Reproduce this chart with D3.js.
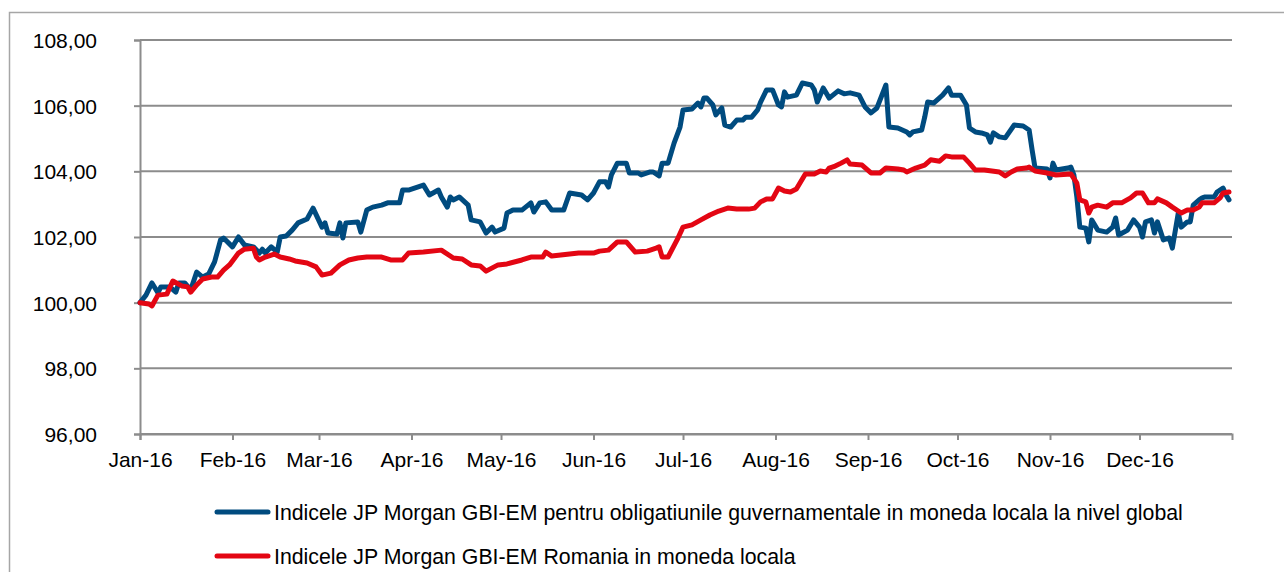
<!DOCTYPE html>
<html>
<head>
<meta charset="utf-8">
<script src="https://cdn.jsdelivr.net/npm/d3@7"></script>
<style>
  body { margin: 0; background: #fff; }
  svg text { font-family: "Liberation Sans", Arial, sans-serif; fill: #000; }
</style>
</head>
<body>
<div id="chart"></div>
<script>
// date series
var blueDates = ["2016-01-01","2016-01-03","2016-01-05","2016-01-07","2016-01-08","2016-01-11","2016-01-13","2016-01-14","2016-01-16","2016-01-18",
  "2016-01-20","2016-01-22","2016-01-24","2016-01-26","2016-01-28","2016-01-29","2016-02-01","2016-02-03","2016-02-05","2016-02-08",
  "2016-02-10","2016-02-11","2016-02-12","2016-02-14","2016-02-16","2016-02-17","2016-02-19","2016-02-21","2016-02-23","2016-02-26",
  "2016-02-28","2016-03-02","2016-03-03","2016-03-04","2016-03-07","2016-03-08","2016-03-09","2016-03-10","2016-03-14","2016-03-15",
  "2016-03-17","2016-03-19","2016-03-22","2016-03-24","2016-03-28","2016-03-29","2016-03-31","2016-04-02","2016-04-05","2016-04-07",
  "2016-04-10","2016-04-11","2016-04-13","2016-04-14","2016-04-15","2016-04-17","2016-04-20","2016-04-21","2016-04-24","2016-04-26",
  "2016-04-28","2016-04-29","2016-05-02","2016-05-03","2016-05-05","2016-05-08","2016-05-11","2016-05-12","2016-05-14","2016-05-16",
  "2016-05-18","2016-05-22","2016-05-24","2016-05-28","2016-05-30","2016-06-01","2016-06-03","2016-06-05","2016-06-06","2016-06-07",
  "2016-06-09","2016-06-12","2016-06-13","2016-06-16","2016-06-17","2016-06-20","2016-06-21","2016-06-23","2016-06-24","2016-06-26",
  "2016-06-28","2016-06-30","2016-07-01","2016-07-04","2016-07-06","2016-07-07","2016-07-08","2016-07-09","2016-07-11","2016-07-12",
  "2016-07-14","2016-07-15","2016-07-17","2016-07-19","2016-07-21","2016-07-22","2016-07-24","2016-07-26","2016-07-27","2016-07-29",
  "2016-07-31","2016-08-02","2016-08-03","2016-08-04","2016-08-05","2016-08-08","2016-08-10","2016-08-13","2016-08-14","2016-08-15",
  "2016-08-17","2016-08-19","2016-08-22","2016-08-24","2016-08-26","2016-08-29","2016-08-31","2016-09-02","2016-09-04","2016-09-07",
  "2016-09-08","2016-09-11","2016-09-14","2016-09-15","2016-09-16","2016-09-19","2016-09-20","2016-09-21","2016-09-23","2016-09-26",
  "2016-09-28","2016-09-29","2016-10-02","2016-10-04","2016-10-05","2016-10-07","2016-10-09","2016-10-11","2016-10-12","2016-10-13",
  "2016-10-15","2016-10-17","2016-10-20","2016-10-23","2016-10-25","2016-10-26","2016-10-27","2016-10-31","2016-11-01","2016-11-02",
  "2016-11-03","2016-11-07","2016-11-08","2016-11-09","2016-11-10","2016-11-11","2016-11-13","2016-11-14","2016-11-15","2016-11-17",
  "2016-11-20","2016-11-22","2016-11-23","2016-11-24","2016-11-27","2016-11-29","2016-12-01","2016-12-02","2016-12-03","2016-12-05",
  "2016-12-06","2016-12-07","2016-12-09","2016-12-11","2016-12-12","2016-12-14","2016-12-15","2016-12-17","2016-12-18","2016-12-19",
  "2016-12-21","2016-12-22","2016-12-23","2016-12-26","2016-12-27","2016-12-29","2016-12-30","2016-12-31"];
var blueValues = [100.00,100.23,100.60,100.30,100.48,100.48,100.32,100.60,100.60,100.39,
  100.93,100.78,100.87,101.24,101.91,101.97,101.70,102.00,101.76,101.70,
  101.51,101.63,101.51,101.70,101.54,102.00,102.03,102.21,102.43,102.55,
  102.88,102.30,102.43,102.12,102.09,102.43,101.97,102.43,102.46,102.15,
  102.82,102.91,102.97,103.04,103.04,103.43,103.43,103.49,103.58,103.28,
  103.43,103.22,102.91,103.22,103.13,103.22,102.97,102.52,102.46,102.12,
  102.30,102.15,102.27,102.73,102.82,102.82,103.04,102.76,103.04,103.07,
  102.82,102.82,103.34,103.28,103.13,103.34,103.68,103.68,103.52,103.89,
  104.25,104.25,103.95,103.95,103.89,103.98,103.98,103.86,104.25,104.25,
  104.86,105.35,105.87,105.90,106.08,105.96,106.23,106.23,106.02,105.72,
  105.93,105.41,105.35,105.56,105.56,105.65,105.65,105.87,106.11,106.48,
  106.48,106.02,105.96,106.42,106.26,106.32,106.69,106.63,106.48,106.11,
  106.54,106.23,106.45,106.36,106.39,106.32,105.96,105.78,105.93,106.63,
  105.35,105.32,105.20,105.11,105.20,105.26,105.65,106.11,106.08,106.32,
  106.54,106.32,106.32,106.02,105.32,105.20,105.17,105.11,104.89,105.17,
  105.05,105.02,105.41,105.38,105.26,104.65,104.10,104.07,103.80,104.25,
  104.04,104.10,104.13,103.89,103.22,102.30,102.27,101.85,102.52,102.21,
  102.15,102.30,102.58,102.06,102.21,102.52,102.30,102.00,102.46,102.52,
  102.12,102.46,101.91,101.97,101.66,102.73,102.30,102.46,102.46,102.97,
  103.13,103.19,103.22,103.22,103.37,103.49,103.28,103.13];

var redDates = ["2016-01-01","2016-01-04","2016-01-05","2016-01-07","2016-01-10","2016-01-12","2016-01-15","2016-01-17","2016-01-18","2016-01-20",
  "2016-01-22","2016-01-25","2016-01-27","2016-01-29","2016-01-31","2016-02-03","2016-02-05","2016-02-08","2016-02-09","2016-02-10",
  "2016-02-12","2016-02-15","2016-02-17","2016-02-20","2016-02-22","2016-02-26","2016-02-29","2016-03-02","2016-03-05","2016-03-08",
  "2016-03-11","2016-03-14","2016-03-17","2016-03-22","2016-03-25","2016-03-29","2016-03-31","2016-04-05","2016-04-11","2016-04-15",
  "2016-04-18","2016-04-21","2016-04-24","2016-04-26","2016-04-30","2016-05-03","2016-05-08","2016-05-11","2016-05-15","2016-05-16",
  "2016-05-18","2016-05-24","2016-05-27","2016-06-01","2016-06-03","2016-06-06","2016-06-09","2016-06-12","2016-06-15","2016-06-19",
  "2016-06-22","2016-06-23","2016-06-24","2016-06-26","2016-06-29","2016-07-01","2016-07-04","2016-07-07","2016-07-10","2016-07-13",
  "2016-07-16","2016-07-19","2016-07-23","2016-07-25","2016-07-27","2016-07-29","2016-07-31","2016-08-02","2016-08-04","2016-08-06",
  "2016-08-08","2016-08-11","2016-08-14","2016-08-16","2016-08-18","2016-08-19","2016-08-21","2016-08-23","2016-08-25","2016-08-26",
  "2016-08-30","2016-09-02","2016-09-05","2016-09-07","2016-09-11","2016-09-13","2016-09-14","2016-09-17","2016-09-20","2016-09-22",
  "2016-09-25","2016-09-27","2016-09-29","2016-10-03","2016-10-05","2016-10-07","2016-10-10","2016-10-15","2016-10-17","2016-10-19",
  "2016-10-21","2016-10-24","2016-10-25","2016-10-27","2016-10-31","2016-11-03","2016-11-08","2016-11-10","2016-11-11","2016-11-13",
  "2016-11-14","2016-11-15","2016-11-17","2016-11-20","2016-11-22","2016-11-25","2016-11-28","2016-11-30","2016-12-02","2016-12-04",
  "2016-12-06","2016-12-07","2016-12-10","2016-12-12","2016-12-15","2016-12-17","2016-12-19","2016-12-21","2016-12-22","2016-12-26",
  "2016-12-28","2016-12-29","2016-12-31"];
var redValues = [100.00,99.96,99.90,100.23,100.26,100.66,100.51,100.48,100.32,100.54,
  100.72,100.78,100.78,100.99,101.15,101.51,101.63,101.66,101.39,101.30,
  101.39,101.48,101.39,101.33,101.27,101.21,101.09,100.84,100.90,101.15,
  101.30,101.36,101.39,101.39,101.30,101.30,101.51,101.54,101.60,101.36,
  101.33,101.15,101.12,100.96,101.15,101.18,101.30,101.39,101.39,101.54,
  101.42,101.48,101.51,101.51,101.57,101.60,101.85,101.85,101.54,101.57,
  101.66,101.70,101.39,101.39,101.91,102.30,102.37,102.52,102.67,102.79,
  102.88,102.85,102.85,102.88,103.07,103.16,103.16,103.49,103.40,103.37,
  103.46,103.92,103.92,104.01,103.98,104.10,104.16,104.25,104.35,104.22,
  104.19,103.95,103.95,104.10,104.07,104.04,103.98,104.10,104.19,104.35,
  104.31,104.47,104.44,104.44,104.25,104.04,104.04,103.98,103.86,103.98,
  104.07,104.10,104.13,104.01,103.95,103.89,103.92,103.64,103.13,103.07,
  102.73,102.91,102.97,102.91,103.04,103.04,103.19,103.34,103.34,103.04,
  103.04,103.16,103.04,102.91,102.73,102.82,102.82,102.91,103.04,103.04,
  103.19,103.34,103.37];

var monthTicks = ["2016-01-01","2016-02-01","2016-03-01","2016-04-01","2016-05-01","2016-06-01",
  "2016-07-01","2016-08-01","2016-09-01","2016-10-01","2016-11-01","2016-12-01"];
var yTicks = [96, 98, 100, 102, 104, 106, 108];
var seriesNames = ["Indicele JP Morgan GBI-EM pentru obligatiunile guvernamentale in moneda locala la nivel global",
  "Indicele JP Morgan GBI-EM Romania in moneda locala"];
var seriesColors = ["#004b7f", "#e30613"];

var W = 1284, H = 572;
var margin = {top: 40, right: 52, bottom: 138, left: 140},
    width = W - margin.left - margin.right,
    height = H - margin.top - margin.bottom;

var parse = d3.timeParse("%Y-%m-%d");

var x = d3.scaleTime()
    .domain([parse("2016-01-01"), parse("2017-01-01")])
    .range([0, width]);

var y = d3.scaleLinear()
    .domain([96, 108])
    .range([height, 0]);

var svg = d3.select("#chart")
    .append("svg")
    .attr("width", W)
    .attr("height", H);

// outer frame
svg.append("rect")
    .attr("x", 9.5).attr("y", 12.5)
    .attr("width", W + 10).attr("height", H + 10)
    .style("fill", "none")
    .style("stroke", "#a6a6a6")
    .style("stroke-width", "1.5px");

var g = svg.append("g")
    .attr("transform", "translate(" + margin.left + "," + margin.top + ")");

// gridlines
g.append("g")
    .selectAll("line")
    .data(yTicks)
    .join("line")
    .attr("x1", 0).attr("x2", width)
    .attr("y1", d => y(d)).attr("y2", d => y(d))
    .style("stroke", "#8c8c8c")
    .style("stroke-width", "2px");

var fmt = d3.format(".2f");

var yAxis = g.append("g")
    .call(d3.axisLeft(y).tickValues(yTicks).tickSize(6).tickPadding(37)
        .tickFormat(d => fmt(d).replace(".", ",")));
yAxis.select(".domain").style("stroke", "#8c8c8c").style("stroke-width", "2px");
yAxis.selectAll(".tick line").style("stroke", "#8c8c8c").style("stroke-width", "2px");
yAxis.selectAll("text").style("font-size", "21px").attr("dy", "0.36em");

var xAxis = g.append("g")
    .attr("transform", "translate(0," + height + ")")
    .call(d3.axisBottom(x).tickValues(monthTicks.map(parse)).tickSize(6).tickPadding(12)
        .tickFormat(d3.timeFormat("%b-%y")));
xAxis.select(".domain").style("stroke", "#8c8c8c").style("stroke-width", "2px");
xAxis.selectAll(".tick line").style("stroke", "#8c8c8c").style("stroke-width", "2px");
xAxis.selectAll("text").style("font-size", "21px");

var line = d3.line()
    .x(d => x(d.date))
    .y(d => y(d.value));

var blueData = blueDates.map((d, i) => ({date: parse(d), value: blueValues[i]}));
var redData = redDates.map((d, i) => ({date: parse(d), value: redValues[i]}));

[blueData, redData].forEach(function(data, i) {
  g.append("path")
      .datum(data)
      .attr("d", line)
      .style("fill", "none")
      .style("stroke", seriesColors[i])
      .style("stroke-width", "5px")
      .style("stroke-linejoin", "round")
      .style("stroke-linecap", "round");
});

// legend
var legendY = [512, 556];
var legend = svg.append("g");
seriesNames.forEach(function(name, i) {
  legend.append("line")
      .attr("x1", 217).attr("x2", 268)
      .attr("y1", legendY[i]).attr("y2", legendY[i])
      .style("stroke", seriesColors[i])
      .style("stroke-width", "5px")
      .style("stroke-linecap", "round");
  legend.append("text")
      .attr("x", 274)
      .attr("y", legendY[i])
      .attr("dy", "0.36em")
      .style("font-size", "21.3px")
      .text(name);
});
</script>
</body>
</html>
